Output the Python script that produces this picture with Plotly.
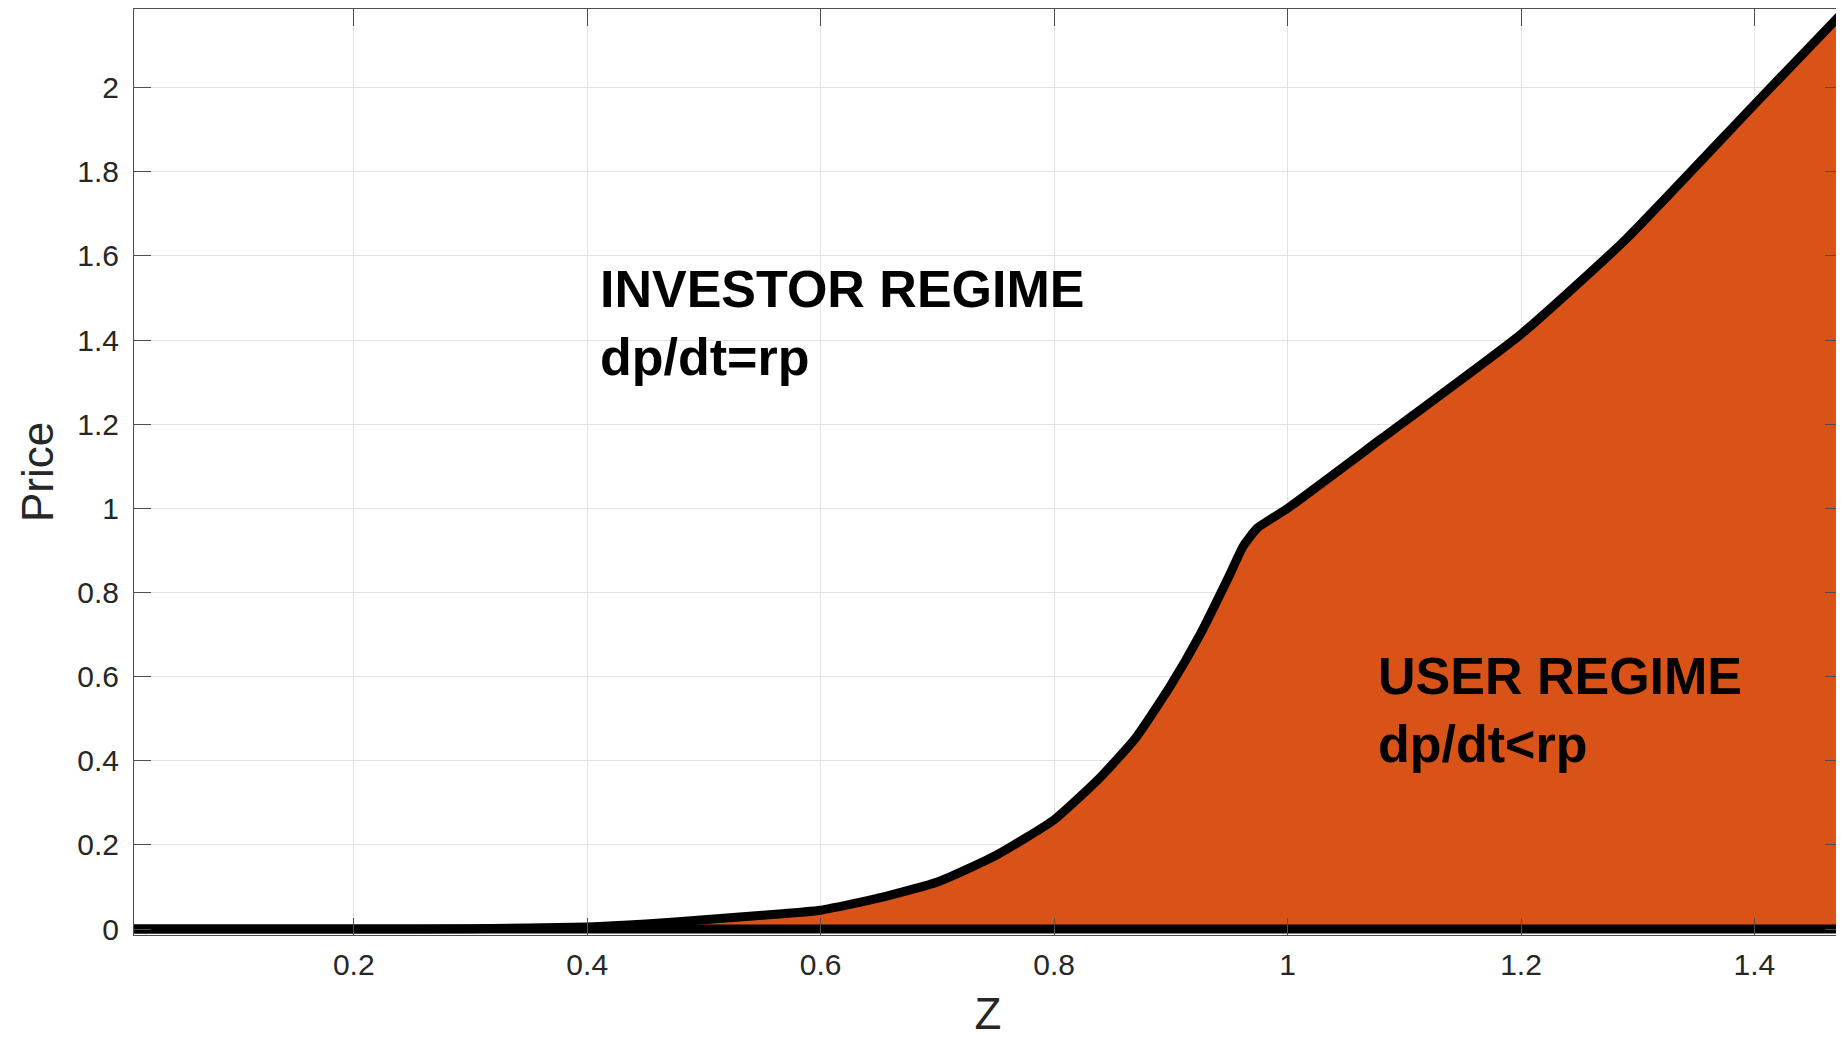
import plotly.graph_objects as go

# curve (Z vs price)
z_vals = [0.01, 0.1, 0.2, 0.3, 0.4, 0.45, 0.5, 0.55, 0.6, 0.65, 0.7, 0.75, 0.8,
          0.84, 0.87, 0.9, 0.925, 0.95, 0.962, 0.974, 1.0, 1.08, 1.2, 1.29, 1.4, 1.475]
price_vals = [0.0, 0.0, 0.0, 0.001, 0.005, 0.012, 0.022, 0.033, 0.045, 0.074, 0.112, 0.175, 0.26,
              0.362, 0.455, 0.58, 0.70, 0.84, 0.91, 0.953, 1.0, 1.165, 1.414, 1.64, 1.96, 2.177]

x_ticks = [0.2, 0.4, 0.6, 0.8, 1.0, 1.2, 1.4]
x_tick_labels = ["0.2", "0.4", "0.6", "0.8", "1", "1.2", "1.4"]
y_ticks = [0, 0.2, 0.4, 0.6, 0.8, 1.0, 1.2, 1.4, 1.6, 1.8, 2.0]
y_tick_labels = ["0", "0.2", "0.4", "0.6", "0.8", "1", "1.2", "1.4", "1.6", "1.8", "2"]

FILL = "#D95319"
AXIS = "#4d4d4d"
TXT = "#262626"
FONT = "Liberation Sans, Arial, sans-serif"

fig = go.Figure()
# smooth curve, filled down to zero
fig.add_trace(go.Scatter(
    x=z_vals, y=price_vals,
    mode="lines",
    fill="tozeroy",
    fillcolor=FILL,
    line=dict(color="black", width=9, shape="spline", smoothing=0.5),
    hoverinfo="skip",
    showlegend=False,
))
# outline of the area: right edge and baseline
fig.add_trace(go.Scatter(
    x=[z_vals[-1], z_vals[-1], z_vals[0]],
    y=[price_vals[-1], 0.0, 0.0],
    mode="lines",
    line=dict(color="black", width=9),
    hoverinfo="skip",
    showlegend=False,
))

fig.add_annotation(x=0.409, y=1.44, xref="x", yref="y",
                   text="<b>INVESTOR REGIME</b><br><b>dp/dt=rp</b>",
                   showarrow=False, xanchor="left", yanchor="middle", align="left",
                   font=dict(family=FONT, size=52, color="black"))
fig.add_annotation(x=1.076, y=0.52, xref="x", yref="y",
                   text="<b>USER REGIME</b><br><b>dp/dt&lt;rp</b>",
                   showarrow=False, xanchor="left", yanchor="middle", align="left",
                   font=dict(family=FONT, size=52, color="black"))

axis_common = dict(
    showline=True, linecolor=AXIS, linewidth=1, mirror="ticks",
    ticks="inside", ticklen=17, tickcolor=AXIS, tickwidth=1,
    showgrid=True, gridcolor="#e3e3e3", gridwidth=1,
    zeroline=False, automargin=False,
    tickfont=dict(family=FONT, size=30, color=TXT),
)

fig.update_xaxes(
    range=[0.0117, 1.475],
    tickvals=x_ticks, ticktext=x_tick_labels,
    ticklabelstandoff=3,
    title=dict(text="Z", font=dict(family=FONT, size=44, color=TXT), standoff=32),
    **axis_common,
)
fig.update_yaxes(
    range=[-0.014, 2.187],
    tickvals=y_ticks, ticktext=y_tick_labels,
    ticklabelstandoff=8,
    title=dict(text="Price", font=dict(family=FONT, size=44, color=TXT), standoff=9),
    **axis_common,
)

# the page body adds an 8px offset, so the figure is 8px smaller each way
fig.update_layout(
    width=1836, height=1030,
    plot_bgcolor="white", paper_bgcolor="white",
    margin=dict(l=126, r=2, t=1, b=103),
)

fig.write_html("out.html")
